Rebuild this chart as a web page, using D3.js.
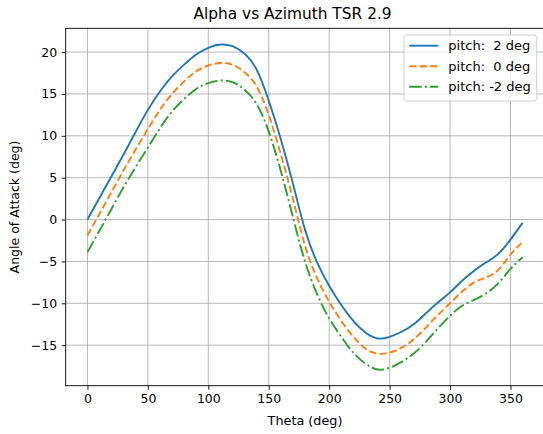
<!DOCTYPE html>
<html>
<head>
<meta charset="utf-8">
<script src="https://cdn.jsdelivr.net/npm/d3@7"></script>
<style>
  html, body { margin: 0; padding: 0; background: #ffffff; }
  svg { display: block; font-family: "DejaVu Sans", sans-serif; }
  text { white-space: pre; }
</style>
</head>
<body>
<svg id="chart" width="543" height="434"></svg>
<script>
// ---- data ----
const theta = [0,10,20,30,40,50,60,70,80,90,100,110,120,130,140,150,160,170,180,
               190,200,210,220,230,240,250,260,270,280,290,300,310,320,330,340,350,360];
const pitch2 = [0.0,2.6,5.2,7.8,10.5,13.1,15.3,17.1,18.5,19.7,20.5,20.9,20.7,19.8,17.9,14.2,9.6,4.3,-1.2,
                -5.1,-7.9,-10.2,-12.1,-13.5,-14.2,-14.0,-13.4,-12.5,-11.2,-9.9,-8.7,-7.3,-6.1,-5.1,-4.1,-2.4,-0.4];
const pitch0 = [-1.9,0.7,3.3,5.9,8.4,10.8,13.1,15.0,16.5,17.7,18.4,18.7,18.5,17.6,15.9,12.5,7.8,2.5,-3.1,
                -7.0,-9.8,-12.1,-14.0,-15.4,-16.0,-15.9,-15.3,-14.3,-12.9,-11.4,-10.0,-8.6,-7.5,-6.9,-6.0,-4.2,-2.7];
const pitchM2 = [-3.9,-1.3,1.3,3.9,6.3,8.6,10.9,12.9,14.4,15.6,16.3,16.6,16.4,15.5,13.8,10.5,5.8,0.3,-5.0,
                 -8.9,-11.8,-14.0,-15.9,-17.2,-17.9,-17.7,-17.0,-16.0,-14.6,-13.0,-11.5,-10.3,-9.6,-8.8,-7.6,-5.9,-4.5];
const seriesLabels = ["pitch:  2 deg", "pitch:  0 deg", "pitch: -2 deg"];
const xTicks = [0,50,100,150,200,250,300,350];
const yTicks = [-15,-10,-5,0,5,10,15,20];
const titleText = "Alpha vs Azimuth TSR 2.9";
const xLabel = "Theta (deg)";
const yLabel = "Angle of Attack (deg)";

// ---- layout ----
const svg = d3.select("#chart");
const L = 65.7, R = 544.3, T = 28.3, B = 385.7;
const x = d3.scaleLinear().domain([-18, 378]).range([L, R]);
const y = d3.scaleLinear().domain([-19.84, 22.84]).range([B, T]);

const LW = 1.9;
const styles = [
  { color: "#1f77b4", dash: null },
  { color: "#ff7f0e", dash: "7.2,3.2" },
  { color: "#2ca02c", dash: "12.4,3.2,2,3.2" }
];
const seriesData = [pitch2, pitch0, pitchM2];

// grid
const grid = svg.append("g");
grid.selectAll("line.gx").data(xTicks).join("line")
  .attr("x1", d => x(d)).attr("x2", d => x(d)).attr("y1", T).attr("y2", B)
  .attr("stroke", "#b0b0b0").attr("stroke-width", 0.9);
grid.selectAll("line.gy").data(yTicks).join("line")
  .attr("x1", L).attr("x2", R).attr("y1", d => y(d)).attr("y2", d => y(d))
  .attr("stroke", "#b0b0b0").attr("stroke-width", 0.9);

// lines
svg.append("clipPath").attr("id", "clip").append("rect")
  .attr("x", L).attr("y", T).attr("width", R - L).attr("height", B - T);
const line = d3.line().x(d => x(d[0])).y(d => y(d[1])).curve(d3.curveNatural);
seriesData.forEach((vals, i) => {
  const pts = theta.map((t, j) => [t, vals[j]]);
  svg.append("path").datum(pts)
    .attr("clip-path", "url(#clip)")
    .attr("d", line)
    .attr("fill", "none")
    .attr("stroke", styles[i].color)
    .attr("stroke-width", LW)
    .attr("stroke-dasharray", styles[i].dash);
});

// axes
const xAxis = d3.axisBottom(x).tickValues(xTicks).tickSize(4).tickPadding(4.5).tickFormat(d3.format("d"));
const yAxis = d3.axisLeft(y).tickValues(yTicks).tickSize(4).tickPadding(4.5).tickFormat(d3.format("d"));
const gx = svg.append("g").attr("transform", `translate(0,${B})`).call(xAxis);
const gy = svg.append("g").attr("transform", `translate(${L},0)`).call(yAxis);
[gx, gy].forEach(g => {
  g.select(".domain").remove();
  g.selectAll(".tick line").attr("stroke", "#000").attr("stroke-width", 0.9);
  g.selectAll(".tick text").attr("fill", "#000").style("font-size", "12.5px")
    .style("font-family", "DejaVu Sans, sans-serif");
});

// spines
svg.append("rect").attr("x", L).attr("y", T).attr("width", R - L).attr("height", B - T)
  .attr("fill", "none").attr("stroke", "#000").attr("stroke-width", 0.9);

// title & labels
svg.append("text").attr("x", 292.5).attr("y", 19).attr("text-anchor", "middle")
  .style("font-size", "15.4px").attr("fill", "#000").text(titleText);
svg.append("text").attr("x", (L + R) / 2).attr("y", 425).attr("text-anchor", "middle")
  .style("font-size", "12.8px").attr("fill", "#000").text(xLabel);
svg.append("text").attr("transform", `translate(18.5,${(T + B) / 2}) rotate(-90)`)
  .attr("text-anchor", "middle").style("font-size", "12.5px").attr("fill", "#000").text(yLabel);

// legend
const lg = svg.append("g");
lg.append("rect").attr("x", 404).attr("y", 35).attr("width", 132.7).attr("height", 66)
  .attr("rx", 3).attr("fill", "#fff").attr("fill-opacity", 0.8)
  .attr("stroke", "#cccccc").attr("stroke-width", 0.9);
const rowsY = [45.7, 66.2, 86.7];
seriesLabels.forEach((lab, i) => {
  lg.append("line").attr("x1", 409.3).attr("x2", 438.3).attr("y1", rowsY[i]).attr("y2", rowsY[i])
    .attr("stroke", styles[i].color).attr("stroke-width", LW).attr("stroke-dasharray", styles[i].dash);
  lg.append("text").attr("x", 448.3).attr("y", rowsY[i] + 4.5)
    .style("font-size", "13px").attr("fill", "#000").text(lab);
});
</script>
</body>
</html>
